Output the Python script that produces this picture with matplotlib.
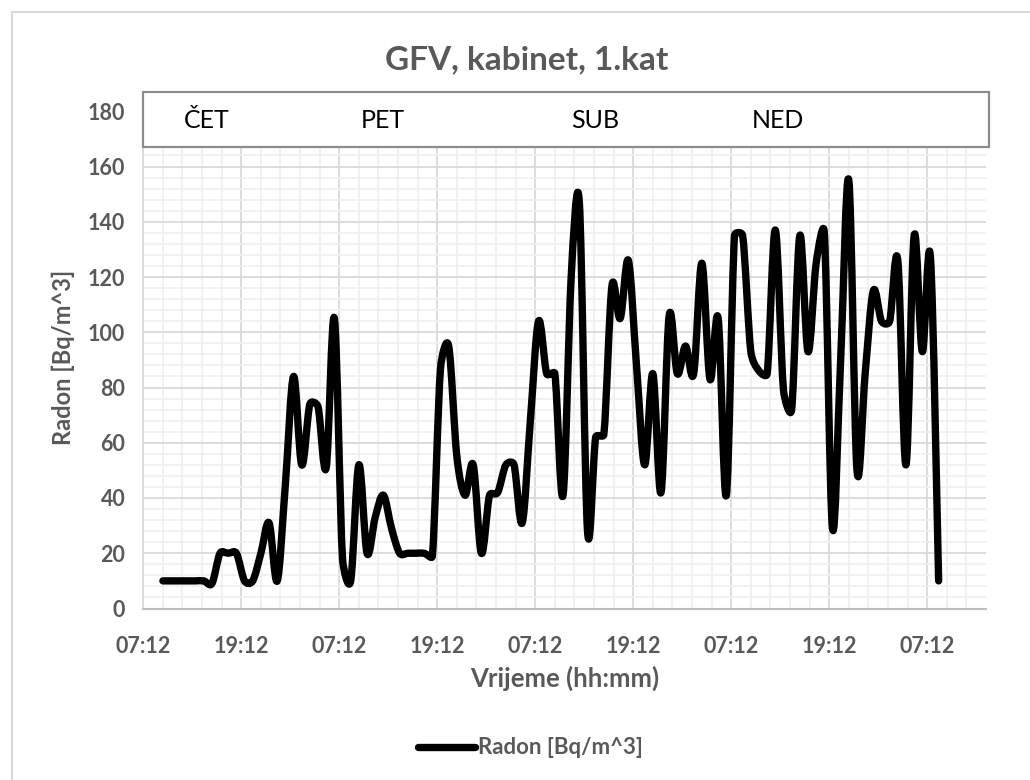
import numpy as np
import matplotlib
matplotlib.use("Agg")
import matplotlib.pyplot as plt
from matplotlib.path import Path
from matplotlib.patches import PathPatch, Rectangle
from matplotlib.lines import Line2D

# ---- data -------------------------------------------------------------
# hourly radon readings, first reading 2.4 h after the 07:12 axis origin
start_hour = 2.4
step_hours = 1.0
radon = [
    10, 10, 10, 10, 10, 10, 9, 20, 20, 20,
    10, 10, 20, 31, 10, 45, 84, 52, 74, 73,
    51, 105, 18, 10, 52, 20, 33, 41, 29, 20,
    20, 20, 20, 19, 87, 95, 55, 41, 52, 20,
    41, 42, 52, 52, 31, 68, 104, 85, 85, 41,
    120, 147, 28, 62, 63, 117, 105, 126, 88, 52,
    85, 42, 106, 85, 95, 85, 125, 83, 105, 41,
    135, 135, 93, 86, 85, 137, 79, 72, 135, 93,
    125, 136, 29, 90, 155, 50, 85, 115, 104, 104,
    126, 52, 135, 93, 127, 10,
]
hours = start_hour + step_hours * np.arange(len(radon))

x_ticks = [0, 12, 24, 36, 48, 60, 72, 84, 96]
x_tick_labels = ["07:12", "19:12", "07:12", "19:12", "07:12",
                 "19:12", "07:12", "19:12", "07:12"]
day_names = ["ČET", "PET", "SUB", "NED"]

title = "GFV, kabinet, 1.kat"
x_title = "Vrijeme (hh:mm)"
y_title = "Radon [Bq/m^3]"
series_name = "Radon [Bq/m^3]"

# ---- style ------------------------------------------------------------
W, H = 1030, 780
FONT = ["Lato", "DejaVu Sans"]
GREY = "#595959"
plt.rcParams["font.family"] = FONT

fig = plt.figure(figsize=(W / 100, H / 100), dpi=100)
fig.patch.set_facecolor("white")


def fx(px):
    return px / W


def fy(py):
    return 1 - py / H


# outer chart frame
fig.patches.append(Rectangle((fx(12), fy(790)), fx(1040) - fx(12), fy(12) - fy(790),
                             transform=fig.transFigure, fill=False,
                             edgecolor="#d9d9d9", linewidth=1.5, zorder=0))

left, right, top, bottom = 143.3, 986.0, 111.25, 608.5
ax = fig.add_axes([fx(left), fy(bottom), fx(right) - fx(left), fy(top) - fy(bottom)])
ax.set_xlim(0, 103.2)
ax.set_ylim(0, 180)

ax.set_xticks(x_ticks)
ax.set_xticklabels(x_tick_labels)
ax.set_xticks(np.arange(0, 103.2, 2.4), minor=True)
ax.set_yticks(np.arange(0, 181, 20))
ax.set_yticks(np.arange(0, 181, 4), minor=True)

ax.grid(which="minor", color="#efefef", linewidth=1.2, zorder=0)
ax.grid(which="major", color="#d9d9d9", linewidth=1.3, zorder=0)
ax.set_axisbelow(True)

for side in ("top", "right"):
    ax.spines[side].set_visible(False)
ax.spines["left"].set_color("#d9d9d9")
ax.spines["left"].set_linewidth(1.3)
ax.spines["bottom"].set_color("#bfbfbf")
ax.spines["bottom"].set_linewidth(1.5)

ax.tick_params(which="both", length=0)
ax.tick_params(axis="x", pad=20, labelsize=15.5, labelcolor=GREY)
ax.tick_params(axis="y", pad=13, labelsize=15.5, labelcolor=GREY)
for lab in ax.get_xticklabels() + ax.get_yticklabels():
    lab.set_fontweight("bold")

# smoothed series line: cubic Bezier through every reading, with the
# control handles limited to half the segment length (in screen space)
pts = ax.transData.transform(np.column_stack([hours, radon]).astype(float))
n = len(pts)
f = 1.0 / 6.0
verts = [pts[0]]
codes = [Path.MOVETO]
for i in range(n - 1):
    p0 = pts[i - 1] if i > 0 else pts[i]
    p1 = pts[i]
    p2 = pts[i + 1]
    p3 = pts[i + 2] if i + 2 < n else pts[i + 1]
    d12 = np.hypot(*(p2 - p1))
    v1 = p2 - p0
    v2 = p3 - p1
    d02 = np.hypot(*v1)
    d13 = np.hypot(*v2)
    k1 = f if d02 * f <= d12 / 2 or d02 == 0 else (d12 / 2) / d02
    k2 = f if d13 * f <= d12 / 2 or d13 == 0 else (d12 / 2) / d13
    c1 = p1 + k1 * v1
    c2 = p2 - k2 * v2
    verts += [c1, c2, p2]
    codes += [Path.CURVE4] * 3
verts = ax.transData.inverted().transform(np.array(verts))
ax.add_patch(PathPatch(Path(verts, codes), facecolor="none", edgecolor="black",
                       linewidth=5.3, capstyle="round", joinstyle="round",
                       zorder=3, clip_on=False))

# weekday strip above the plot
fig.patches.append(Rectangle((fx(143.3), fy(147)), fx(989) - fx(143.3), fy(92) - fy(147),
                             transform=fig.transFigure, facecolor="white",
                             edgecolor="#8c8c8c", linewidth=1.6, zorder=5))
day_x = [206.7, 383.0, 595.5, 777.5]
for name, px in zip(day_names, day_x):
    fig.text(fx(px), fy(121), name, ha="center", va="center",
             fontsize=18, color="black", zorder=6)

# titles
fig.text(fx(527), fy(60), title, ha="center", va="center",
         fontsize=24, color=GREY, fontweight="bold")
fig.text(fx(564.5), fy(678), x_title, ha="center", va="center",
         fontsize=18.5, color=GREY, fontweight="bold")
fig.text(fx(63), fy(357), y_title, ha="center", va="center", rotation=90,
         fontsize=17, color=GREY, fontweight="bold")

# legend
handle = Line2D([], [], color="black", linewidth=5.3, solid_capstyle="round")
leg = fig.legend([handle], [series_name], loc="center",
                 bbox_to_anchor=(fx(530), fy(748)), frameon=False,
                 handlelength=2.6, handletextpad=0.1, fontsize=16)
for t in leg.get_texts():
    t.set_color(GREY)
    t.set_fontweight("bold")

fig.savefig("out.png", dpi=100, facecolor="white")
